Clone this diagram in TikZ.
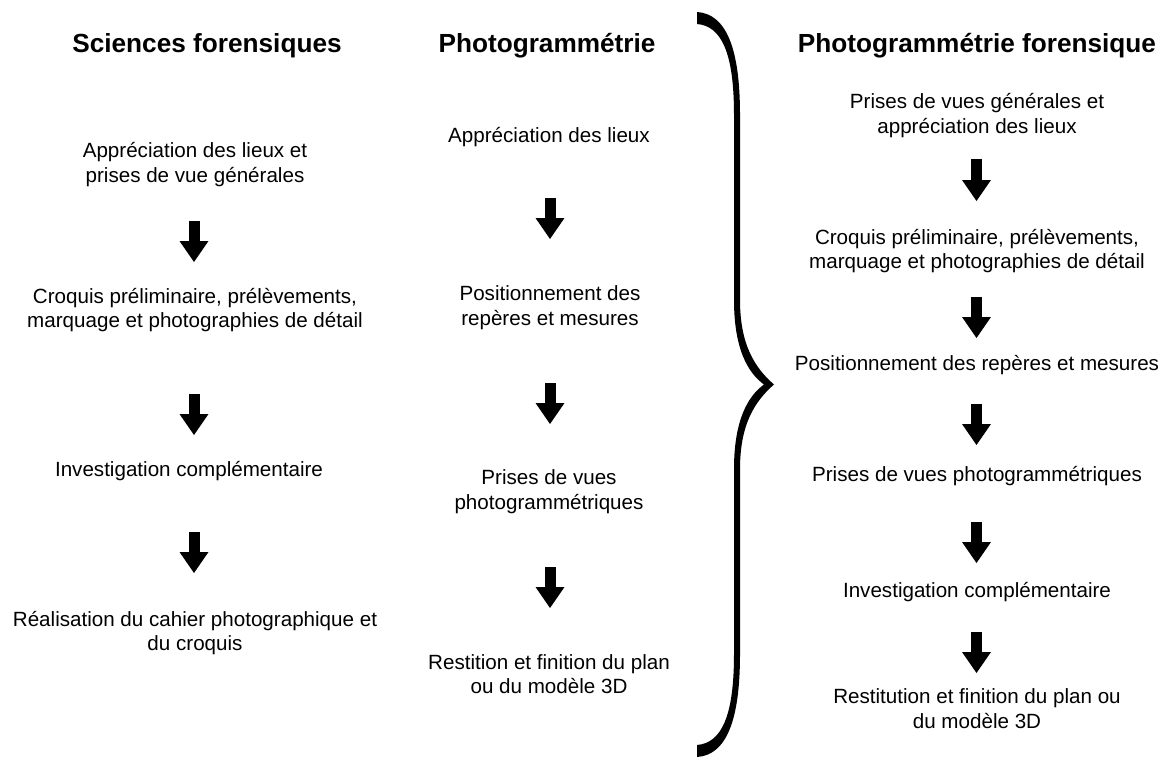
\documentclass[tikz,border=0pt]{standalone}
\usepackage{fontspec}
\setmainfont{Liberation Sans}
\usetikzlibrary{arrows.meta}
\tikzset{coltitle/.style={font=\bfseries\fontsize{26.2}{31}\selectfont, inner sep=0pt},
	stage/.style={font=\fontsize{20.6}{24.7}\selectfont, align=center, inner sep=0pt},
	flow/.style={line width=11pt, -{Triangle[width=29pt,length=21pt,line width=0pt]}}}

\begin{document}
\begin{tikzpicture}[x=1pt,y=-1pt]
		\useasboundingbox (0,0) rectangle (1162,758);
		% column titles
		\node[coltitle] (sf) at (207,46){Sciences forensiques};
		\node[coltitle] (ph) at (547,46){Photogrammétrie};
		\node[coltitle] (pf) at (977,46){Photogrammétrie forensique};
		% sciences forensiques
		\node[stage] (sf1) at (195,164.5){Appréciation des lieux et\\prises de vue générales};
		\node[stage] (sf2) at (195,310){Croquis préliminaire, prélèvements,\\marquage et photographies de détail};
		\node[stage] (sf3) at (189,471){Investigation complémentaire};
		\node[stage] (sf4) at (195,633){Réalisation du cahier photographique et\\du croquis};
		\coordinate (sfa1) at (194,221); \coordinate (sfb1) at (194,262);
		\coordinate (sfa2) at (194,394); \coordinate (sfb2) at (194,435);
		\coordinate (sfa3) at (194,532); \coordinate (sfb3) at (194,573);
		\draw[flow] (sfa1) -- (sfb1);
		\draw[flow] (sfa2) -- (sfb2);
		\draw[flow] (sfa3) -- (sfb3);
		% photogrammetrie
		\node[stage] (ph1) at (549,137){Appréciation des lieux};
		\node[stage] (ph2) at (550,308){Positionnement des\\repères et mesures};
		\node[stage] (ph3) at (549,491.5){Prises de vues\\photogrammétriques};
		\node[stage] (ph4) at (549,674){Restition et finition du plan\\ou du modèle 3D};
		\coordinate (pha1) at (550,198); \coordinate (phb1) at (550,239);
		\coordinate (pha2) at (550,383); \coordinate (phb2) at (550,424);
		\coordinate (pha3) at (550,567); \coordinate (phb3) at (550,608);
		\draw[flow] (pha1) -- (phb1);
		\draw[flow] (pha2) -- (phb2);
		\draw[flow] (pha3) -- (phb3);
		% brace joining both columns
		\fill (697,12) .. controls (727,14) and (740,50) .. (740,115)
			-- (740,300) .. controls (740,345) and (755,368) .. (774,384.5)
			.. controls (755,401) and (740,424) .. (740,469)
			-- (740,654) .. controls (740,719) and (727,755) .. (697,757)
			-- (697,745) .. controls (722,743) and (734,715) .. (734,654)
			-- (734,469) .. controls (734,420) and (748,396) .. (764,384.5)
			.. controls (748,373) and (734,349) .. (734,300)
			-- (734,115) .. controls (734,54) and (722,26) .. (697,24) -- cycle;
		% photogrammetrie forensique
		\node[stage] (pf1) at (977,115.5){Prises de vues générales et\\appréciation des lieux};
		\node[stage] (pf2) at (977,251){Croquis préliminaire, prélèvements,\\marquage et photographies de détail};
		\node[stage] (pf3) at (977,365){Positionnement des repères et mesures};
		\node[stage] (pf4) at (977,476){Prises de vues photogrammétriques};
		\node[stage] (pf5) at (977,592){Investigation complémentaire};
		\node[stage] (pf6) at (977,708.5){Restitution et finition du plan ou\\du modèle 3D};
		\coordinate (pfa1) at (976.5,159); \coordinate (pfb1) at (976.5,201);
		\coordinate (pfa2) at (976.5,297); \coordinate (pfb2) at (976.5,338);
		\coordinate (pfa3) at (976.5,404); \coordinate (pfb3) at (976.5,445);
		\coordinate (pfa4) at (976.5,522); \coordinate (pfb4) at (976.5,563);
		\coordinate (pfa5) at (976.5,632); \coordinate (pfb5) at (976.5,673);
		\draw[flow] (pfa1) -- (pfb1);
		\draw[flow] (pfa2) -- (pfb2);
		\draw[flow] (pfa3) -- (pfb3);
		\draw[flow] (pfa4) -- (pfb4);
		\draw[flow] (pfa5) -- (pfb5);
		\end{tikzpicture}
\end{document}
